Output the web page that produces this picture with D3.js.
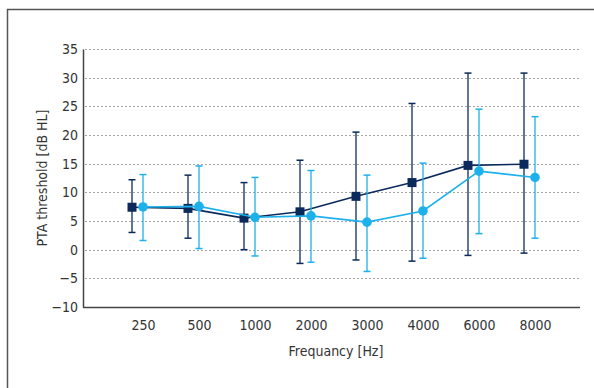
<!DOCTYPE html>
<html>
<head>
<meta charset="utf-8">
<script src="https://cdn.jsdelivr.net/npm/d3@7"></script>
<style>
  body { margin: 0; background: #fff; }
  text { font-family: "DejaVu Sans Condensed", "DejaVu Sans", sans-serif; font-stretch: condensed; fill: #333; }
</style>
</head>
<body>
<svg width="594" height="388"></svg>
<script>
const frequencies = ['250', '500', '1000', '2000', '3000', '4000', '6000', '8000'];

// dark series (squares)
const darkMean = [7.4, 7.2, 5.5, 6.6, 9.3, 11.7, 14.7, 14.9];
const darkHigh = [12.2, 13.0, 11.7, 15.6, 20.5, 25.5, 30.8, 30.8];
const darkLow = [3.0, 2.0, 0.0, -2.4, -1.8, -2.0, -1.0, -0.6];

// light series (circles)
const lightMean = [7.45, 7.55, 5.65, 5.9, 4.8, 6.75, 13.7, 12.6];
const lightHigh = [13.1, 14.6, 12.6, 13.8, 13.0, 15.1, 24.5, 23.2];
const lightLow = [1.6, 0.2, -1.1, -2.2, -3.8, -1.5, 2.8, 2.0];

const yTicks = [-10, -5, 0, 5, 10, 15, 20, 25, 30, 35];

(function () {
const svg = d3.select('svg');

// frame
svg.append('path')
  .attr('d', 'M7.5,400 L7.5,9.5 L600,9.5')
  .attr('fill', 'none')
  .attr('stroke', '#555')
  .attr('stroke-width', 1.5);

const plot = { left: 83, right: 580, top: 49, bottom: 307 };

const x = d3.scalePoint()
  .domain(frequencies)
  .range([143, 535]);

const y = d3.scaleLinear()
  .domain([-10, 35])
  .range([plot.bottom, plot.top]);

const darkColor = '#0b2a5b';
const lightColor = '#1cb1eb';
const darkShift = -11;

// grid
svg.append('g').selectAll('line').data(yTicks.filter(t => t > -10))
  .enter().append('line')
    .attr('x1', plot.left + 2).attr('x2', plot.right)
    .attr('y1', d => Math.round(y(d)) + 0.5).attr('y2', d => Math.round(y(d)) + 0.5)
    .attr('stroke', '#a5a5a5')
    .attr('stroke-dasharray', '2,2');

// y axis
const yAxis = d3.axisLeft(y).tickValues(yTicks).tickSize(0).tickPadding(5)
  .tickFormat(d => d < 0 ? '\u2212' + Math.abs(d) : d);
const yAxisG = svg.append('g').attr('transform', `translate(${plot.left},0)`).call(yAxis);
yAxisG.select('.domain').attr('stroke', '#444').attr('stroke-width', 1.5);
yAxisG.selectAll('text').attr('font-size', 14).style('fill', '#333');

// x axis
const xAxis = d3.axisBottom(x).tickSize(0).tickPadding(13);
const xAxisG = svg.append('g').attr('transform', `translate(0,${plot.bottom})`).call(xAxis);
xAxisG.select('.domain').remove();
xAxisG.selectAll('text').attr('font-size', 14).style('fill', '#333');
svg.append('line')
  .attr('x1', plot.left).attr('x2', plot.right)
  .attr('y1', plot.bottom + 0.5).attr('y2', plot.bottom + 0.5)
  .attr('stroke', '#444').attr('stroke-width', 1.5);

// axis titles
svg.append('text')
  .attr('transform', `translate(47,${(plot.top + plot.bottom) / 2}) rotate(-90)`)
  .attr('text-anchor', 'middle')
  .attr('font-size', 14)
  .text('PTA threshold [dB HL]');

svg.append('text')
  .attr('x', 336).attr('y', 356)
  .attr('text-anchor', 'middle')
  .attr('font-size', 14)
  .text('Frequancy [Hz]');

const drawSeries = (mean, low, high, color, shift, shape) => {
  const data = frequencies.map((f, i) => ({ f, m: mean[i], lo: low[i], hi: high[i] }));
  const cx = d => x(d.f) + shift;
  const g = svg.append('g');

  // error bars
  const eb = g.selectAll('.eb').data(data).enter().append('g');
  eb.append('line')
    .attr('x1', cx).attr('x2', cx)
    .attr('y1', d => y(d.lo)).attr('y2', d => y(d.hi))
    .attr('stroke', color).attr('stroke-width', 1.3);
  eb.append('line')
    .attr('x1', d => cx(d) - 3.5).attr('x2', d => cx(d) + 3.5)
    .attr('y1', d => y(d.hi)).attr('y2', d => y(d.hi))
    .attr('stroke', color).attr('stroke-width', 1.5);
  eb.append('line')
    .attr('x1', d => cx(d) - 3.5).attr('x2', d => cx(d) + 3.5)
    .attr('y1', d => y(d.lo)).attr('y2', d => y(d.lo))
    .attr('stroke', color).attr('stroke-width', 1.5);

  // line
  g.append('path')
    .datum(data)
    .attr('fill', 'none')
    .attr('stroke', color)
    .attr('stroke-width', 1.6)
    .attr('d', d3.line().x(cx).y(d => y(d.m)));

  // markers
  if (shape === 'square') {
    g.selectAll('rect').data(data).enter().append('rect')
      .attr('x', d => cx(d) - 4.5).attr('y', d => y(d.m) - 4.5)
      .attr('width', 9).attr('height', 9)
      .attr('fill', color);
  } else {
    g.selectAll('circle').data(data).enter().append('circle')
      .attr('cx', cx).attr('cy', d => y(d.m))
      .attr('r', 4.8)
      .attr('fill', color);
  }
};

drawSeries(darkMean, darkLow, darkHigh, darkColor, darkShift, 'square');
drawSeries(lightMean, lightLow, lightHigh, lightColor, 0, 'circle');
})();
</script>
</body>
</html>
